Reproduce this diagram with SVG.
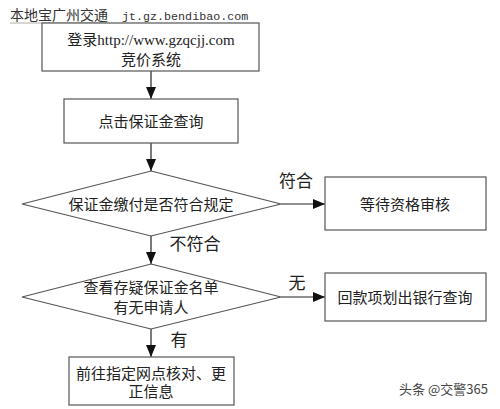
<svg xmlns="http://www.w3.org/2000/svg" width="500" height="409" viewBox="0 0 500 409">
<defs>
<style>
.box{fill:#fff;stroke:#555;stroke-width:1.2}
.t{font-family:"Liberation Serif","Noto Sans CJK SC",serif;font-size:15px;fill:#222;text-anchor:middle}
.lbl{font-family:"Liberation Serif","Noto Sans CJK SC",serif;font-size:17px;fill:#222;text-anchor:middle}
.ln{stroke:#222;stroke-width:1.2;fill:none;marker-end:url(#ah)}
</style>
<marker id="ah" markerWidth="12" markerHeight="10" refX="12" refY="5" orient="auto" markerUnits="userSpaceOnUse">
<path d="M0,0 L12,5 L0,10 Z" fill="#111"/>
</marker>
</defs>
<rect width="500" height="409" fill="#fff"/>
<text x="10" y="20" font-family="'Noto Sans CJK SC',sans-serif" font-size="14" fill="#333">本地宝广州交通</text>
<line x1="10" y1="23" x2="107" y2="23" stroke="#999" stroke-width="0.8"/>
<text x="122" y="20" font-family="'Liberation Mono',monospace" font-size="11.7" fill="#333">jt.gz.bendibao.com</text>

<g id="connectors">
<line class="ln" x1="151" y1="71" x2="151" y2="99"/>
<line class="ln" x1="151" y1="143" x2="151" y2="171"/>
<line class="ln" x1="281" y1="204" x2="325" y2="204"/>
<line class="ln" x1="151" y1="236" x2="151" y2="264"/>
<line class="ln" x1="281" y1="297" x2="325" y2="297"/>
<line class="ln" x1="151" y1="329" x2="151" y2="357"/>
<text class="lbl" x="296" y="187">符合</text>
<text class="lbl" x="195" y="250">不符合</text>
<text class="lbl" x="297" y="289">无</text>
<text class="lbl" x="179" y="346">有</text>
</g>

<g id="n1">
<rect class="box" x="42" y="23" width="217" height="48"/>
<text class="t" x="151" y="45" font-size="15.5">登录http://www.gzqcjj.com</text>
<text class="t" x="151" y="65">竞价系统</text>
</g>
<g id="n2">
<rect class="box" x="64" y="99" width="174" height="44"/>
<text class="t" x="151" y="126.5">点击保证金查询</text>
</g>
<g id="n3">
<polygon class="box" points="151,171 281,204 151,236 22,204"/>
<text class="t" x="151" y="209.5">保证金缴付是否符合规定</text>
</g>
<g id="n4">
<rect class="box" x="325" y="177" width="161" height="53"/>
<text class="t" x="405" y="209.5">等待资格审核</text>
</g>
<g id="n5">
<polygon class="box" points="151,264 281,297 151,329 22,297"/>
<text class="t" x="151" y="293">查看存疑保证金名单</text>
<text class="t" x="151" y="313">有无申请人</text>
</g>
<g id="n6">
<rect class="box" x="325" y="273" width="161" height="48"/>
<text class="t" x="405" y="302.5">回款项划出银行查询</text>
</g>
<g id="n7">
<rect class="box" x="69" y="357" width="165" height="48"/>
<text class="t" x="151" y="378.5">前往指定网点核对、更</text>
<text class="t" x="151" y="396.5">正信息</text>
</g>
<text x="399" y="394" font-family="'Noto Sans CJK SC',sans-serif" font-size="13" fill="#444">头条 @交警365</text>
</svg>
